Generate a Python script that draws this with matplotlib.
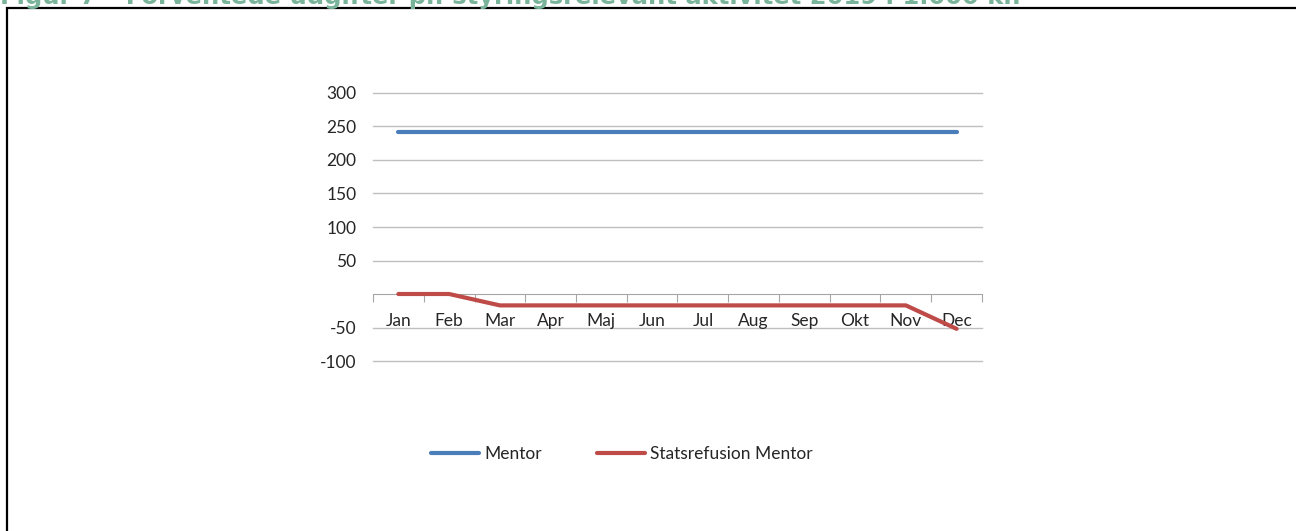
import matplotlib.pyplot as plt
from matplotlib.patches import Rectangle

# data
months = ["Jan", "Feb", "Mar", "Apr", "Maj", "Jun", "Jul", "Aug", "Sep", "Okt", "Nov", "Dec"]
mentor = [242, 242, 242, 242, 242, 242, 242, 242, 242, 242, 242, 242]
statsrefusion = [0, 0, -17, -17, -17, -17, -17, -17, -17, -17, -17, -52]
y_ticks = [-100, -50, 50, 100, 150, 200, 250, 300]
title = "Figur 7 – Forventede udgifter pr. styringsrelevant aktivitet 2019 i 1.000 kr."

plt.rcParams["font.family"] = ["Lato", "DejaVu Sans"]
plt.rcParams["axes.unicode_minus"] = False
W, H = 1296, 531
fig = plt.figure(figsize=(W / 100, H / 100), dpi=100)

# axes placed in pixel terms
ax = fig.add_axes([373 / W, 1 - 361 / H, (982 - 373) / W, (361 - 93) / H])
x = [i + 0.5 for i in range(len(months))]
ax.plot(x, mentor, color="#4a7ebb", lw=3, solid_capstyle="round", label="Mentor", zorder=3)
ax.plot(x, statsrefusion, color="#be4b48", lw=3, solid_capstyle="round",
        label="Statsrefusion Mentor", zorder=3)

ax.set_xlim(0, 12)
ax.set_ylim(-100, 300)
for v in y_ticks:
    ax.axhline(v, color="#bfbfbf", lw=1, zorder=1, clip_on=False)
ax.set_yticks(y_ticks)
ax.tick_params(axis="y", length=0, pad=12, labelsize=12.5, labelcolor="#262626")

for s in ["top", "right", "left"]:
    ax.spines[s].set_visible(False)
ax.spines["bottom"].set_position(("data", 0))
ax.spines["bottom"].set_color("#a6a6a6")
ax.set_xticks(range(13))
ax.set_xticklabels([])
ax.tick_params(axis="x", which="major", length=6, color="#a6a6a6", direction="out")
ax.set_xticks(x, minor=True)
ax.set_xticklabels(months, minor=True)
ax.tick_params(axis="x", which="minor", length=0, pad=14, labelsize=12.5, labelcolor="#262626")

fig.legend(loc="center", bbox_to_anchor=(622 / W, 1 - 454 / H), ncol=2, frameon=False,
           fontsize=12.5, handlelength=2.76, handletextpad=0.3, columnspacing=3.2,
           labelcolor="#262626")

# frame around the figure, running off the right and bottom edge
fig.add_artist(Rectangle((7 / W, -0.1), 1.2, 1.1 - 7.5 / H, transform=fig.transFigure,
                         fill=False, ec="black", lw=1.6))

# title, clipped at the top like the reference
fig.text(0, 1 - 4 / H, title, fontsize=17.5, fontweight="bold", color="#79b49a",
         family="DejaVu Sans", va="baseline", ha="left")

fig.savefig("out.png", dpi=100)
